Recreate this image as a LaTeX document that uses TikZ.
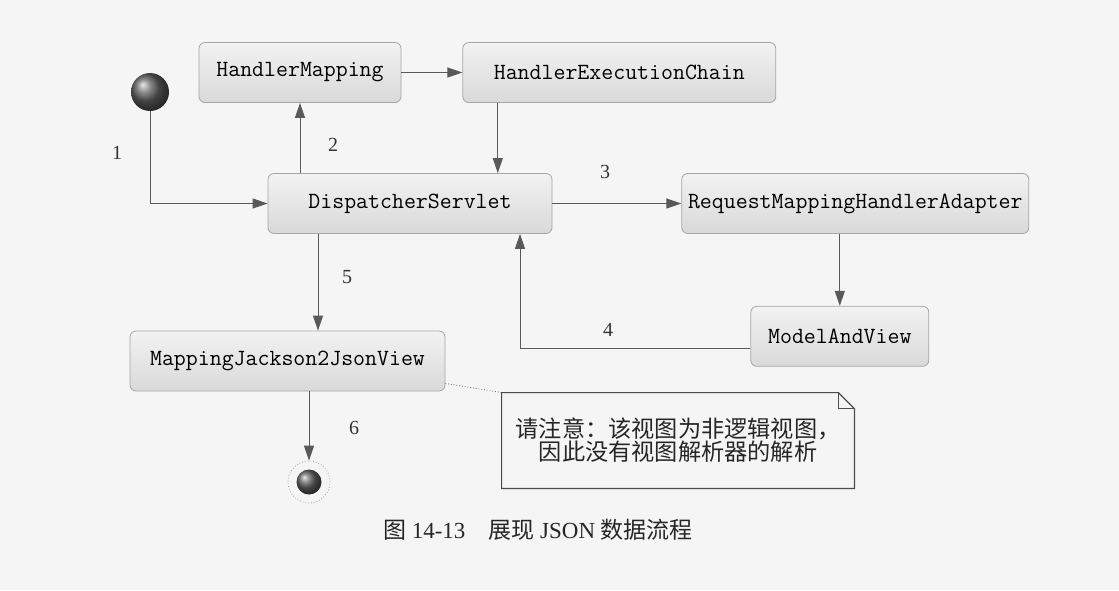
\documentclass[tikz,border=0pt]{standalone}
\usepackage{fontspec}
\setmainfont{Liberation Serif}
\newfontfamily\cjk{Noto Sans CJK SC}
\usetikzlibrary{positioning,arrows.meta}

\tikzset{
  box/.style={draw=gray!70, rounded corners=3pt, top color=gray!10, bottom color=gray!30,
    font=\fontsize{11.6}{12}\selectfont\ttfamily, minimum height=30pt, inner sep=0pt},
  flow/.style={draw=black!65, line width=0.5pt, -{Triangle[length=7.5pt,width=5pt]}},
  num/.style={font=\fontsize{10}{12}\selectfont, text=black!80},
  notebox/.style={align=center, minimum width=176pt, minimum height=47.5pt,
    inner sep=0pt, font=\fontsize{11.6}{11.6}\selectfont\cjk, text=black!85},
  notefold/.style={draw=black!70, line width=0.6pt},
}

\begin{document}
\begin{tikzpicture}[x=0.5pt, y=-0.5pt]
\useasboundingbox[fill=black!4] (0,0) rectangle (1119,590);

% Define nodes
\node[circle, minimum size=19pt, inner sep=0pt, shading=ball, ball color=gray!75!black] (start) at (150,92) {};
\node[box, minimum width=101pt] (hm) at (300,72.5) {HandlerMapping};
\node[box, minimum width=156.5pt, right=30.5pt of hm] (hec) {HandlerExecutionChain};
\node[box, minimum width=142pt] (ds) at (410,203.5) {DispatcherServlet};
\node[box, minimum width=173.5pt, right=64.5pt of ds] (rmha) {RequestMappingHandlerAdapter};
\node[box, minimum width=89pt, below=36pt of rmha, xshift=-7.75pt] (mav) {ModelAndView};
\node[box, minimum width=157.5pt] (mj) at (287.5,361) {MappingJackson2JsonView};
\node[circle, draw=gray!70, densely dotted, minimum size=21pt, inner sep=0pt] (end) at (309,482) {};
\node[circle, minimum size=12.5pt, inner sep=0pt, shading=ball, ball color=gray!75!black] (endball) at (end) {};
\node[notebox] (note) at (678,440.5) {请注意：该视图为非逻辑视图，\\因此没有视图解析器的解析};

% Connect the nodes
\draw[flow] (start) |- (ds);
\draw[flow] (ds.north -| hm) -- (hm.south);
\draw[flow] (hm) -- (hec);
\draw[flow] ([xshift=-60.75pt]hec.south) -- ([xshift=-60.75pt]hec.south |- ds.north);
\draw[flow] (ds) -- (rmha);
\draw[flow] (rmha.south -| mav) -- (mav);
\draw[flow] ([yshift=-6.25pt]mav.west) -| ([xshift=55pt]ds.south);
\draw[flow] ([xshift=-46pt]ds.south) -- ([xshift=-46pt]ds.south |- mj.north);
\draw[flow] (mj.south -| end) -- (end);
\draw[black!60, densely dotted] ([yshift=4pt]mj.south east) -- (note.north west);

% Note
\draw[notefold] (note.north west) -- ([xshift=-8pt]note.north east) -- ([yshift=-8pt]note.north east)
  -- (note.south east) -- (note.south west) -- cycle;
\draw[notefold] ([xshift=-8pt]note.north east) -- ([xshift=-8pt,yshift=-8pt]note.north east)
  -- ([yshift=-8pt]note.north east);

% Step numbers
\node[num] (n1) at (117,153) {1};
\node[num] (n2) at (333,145) {2};
\node[num] (n3) at (605,172) {3};
\node[num] (n4) at (608,330) {4};
\node[num] (n5) at (347,277) {5};
\node[num] (n6) at (354,428) {6};

% Caption
\node[font=\fontsize{11.5}{12}\selectfont, text=black!85, anchor=west] (cap) at (376,530)
  {{\cjk 图} 14-13\quad{\cjk 展现} JSON {\cjk 数据流程}};

\end{tikzpicture}
\end{document}
